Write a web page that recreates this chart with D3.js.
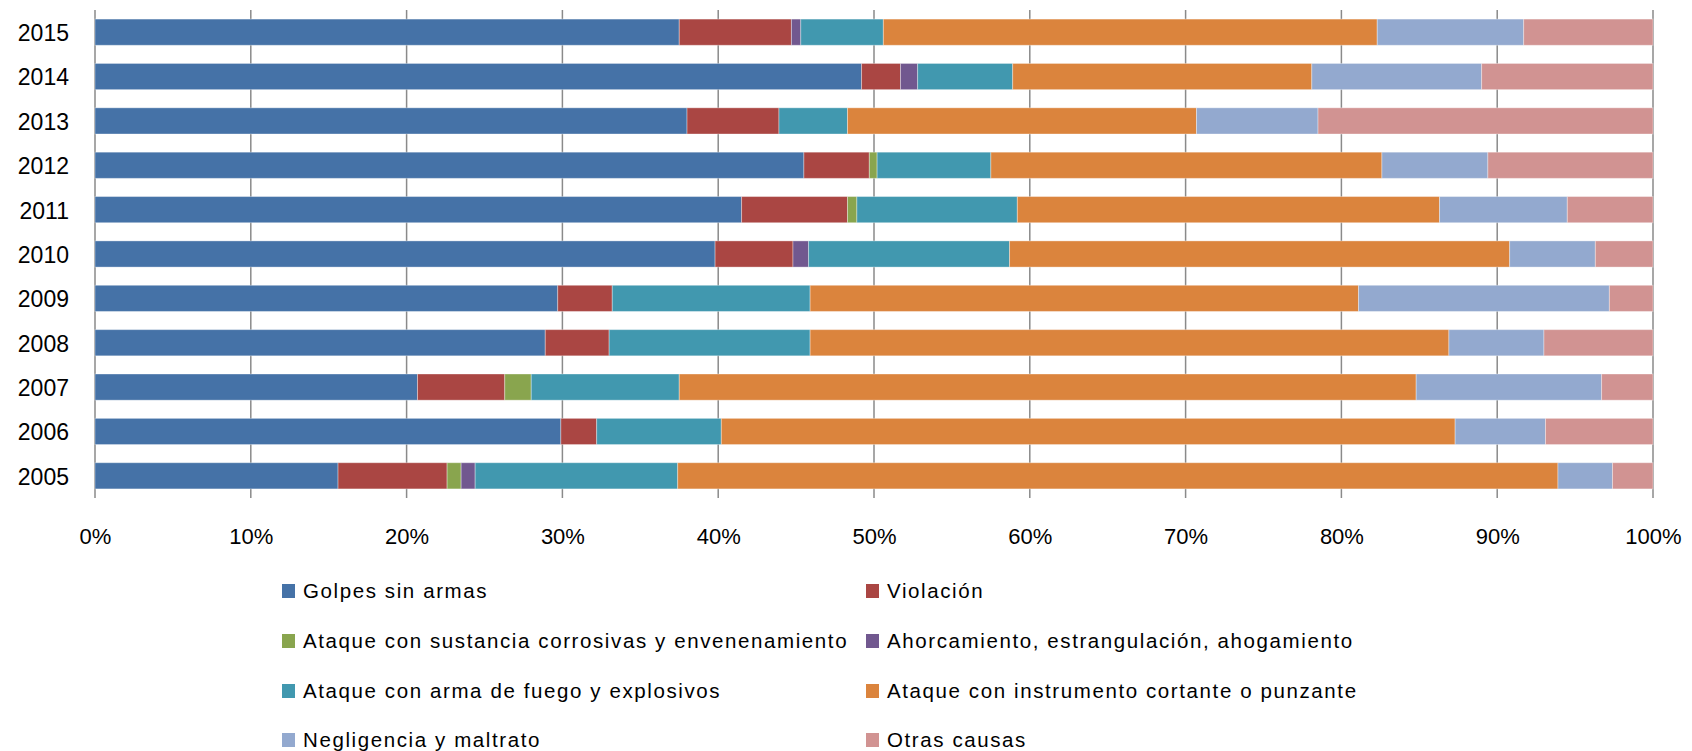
<!DOCTYPE html>
<html><head><meta charset="utf-8">
<script src="https://cdn.jsdelivr.net/npm/d3@7"></script>
<style>body{margin:0;background:#fff}svg{display:block}text{font-family:"Liberation Sans",Arial,sans-serif;fill:#000}</style>
</head><body><svg id="c" width="1692" height="751"></svg>
<script>
const years = ["2015","2014","2013","2012","2011","2010","2009","2008","2007","2006","2005"];
const seriesNames = ["Golpes sin armas","Violación","Ataque con sustancia corrosivas y envenenamiento","Ahorcamiento, estrangulación, ahogamiento","Ataque con arma de fuego y explosivos","Ataque con instrumento cortante o punzante","Negligencia y maltrato","Otras causas"];
const colors = ["#4572A7","#AA4643","#89A54E","#71588F","#4198AF","#DB843D","#93A9CF","#D19392"];
// values per year (same order as years), percent share
const golpes     = [37.5,49.2,38.0,45.5,41.5,39.8,29.7,28.9,20.7,29.9,15.6];
const violacion  = [7.2, 2.5, 5.9, 4.2, 6.8, 5.0, 3.5, 4.1, 5.6, 2.3, 7.0];
const corrosivas = [0,   0,   0,   0.5, 0.6, 0,   0,   0,   1.7, 0,   0.9];
const ahorcam    = [0.6, 1.1, 0,   0,   0,   1.0, 0,   0,   0,   0,   0.9];
const fuego      = [5.3, 6.1, 4.4, 7.3, 10.3,12.9,12.7,12.9,9.5, 8.0, 13.0];
const cortante   = [31.7,19.2,22.4,25.1,27.1,32.1,35.2,41.0,47.3,47.1,56.5];
const negligencia= [9.4, 10.9,7.8, 6.8, 8.2, 5.5, 16.1,6.1, 11.9,5.8, 3.5];
const otras      = [8.3, 11.0,21.5,10.6,5.5, 3.7, 2.8, 7.0, 3.3, 6.9, 2.6];
const xTicks = [0,0.1,0.2,0.3,0.4,0.5,0.6,0.7,0.8,0.9,1];

const seriesArr = [golpes,violacion,corrosivas,ahorcam,fuego,cortante,negligencia,otras];
const rows = years.map((y,i)=>{const o={year:y};seriesNames.forEach((s,j)=>o[s]=seriesArr[j][i]);return o;});

const svg = d3.select("#c");
const x = d3.scaleLinear().domain([0,1]).range([95,1653]);
const y = d3.scaleBand().domain(years).range([10,498]).paddingInner(0.41).paddingOuter(0.205);
const stack = d3.stack().keys(seriesNames).offset(d3.stackOffsetExpand);
const layers = stack(rows);

// gridlines
svg.append("g").selectAll("line").data(xTicks).join("line")
  .attr("x1",d=>x(d)).attr("x2",d=>x(d)).attr("y1",10).attr("y2",498)
  .attr("stroke","#8a8a8a").attr("stroke-width",1.5);

// bars
svg.append("g").selectAll("g").data(layers).join("g")
  .attr("fill",(d,i)=>colors[i])
  .selectAll("rect").data(d=>d).join("rect")
  .attr("x",d=>x(d[0])).attr("width",d=>Math.max(0,x(d[1])-x(d[0])))
  .attr("y",d=>y(d.data.year)).attr("height",y.bandwidth())
  .attr("stroke","#fff").attr("stroke-opacity",0.35).attr("stroke-width",1);

// x tick labels
const xAxis = d3.axisBottom(x).tickValues(xTicks).tickFormat(d3.format(".0%")).tickSize(0).tickPadding(0);
const gx = svg.append("g").attr("transform","translate(0,528)").call(xAxis);
gx.select(".domain").remove();
gx.selectAll("text").attr("font-size",22).attr("font-family","Liberation Sans, Arial, sans-serif").attr("fill","#000").attr("dy","0.71em");

// y labels
const yAxis = d3.axisLeft(y).tickSize(0).tickPadding(26);
const gy = svg.append("g").attr("transform","translate(95,1.5)").call(yAxis);
gy.select(".domain").remove();
gy.selectAll("text").attr("font-size",23).attr("font-family","Liberation Sans, Arial, sans-serif").attr("fill","#000");

// legend
const legX = [282, 866], legY = [591, 641, 691, 740];
const leg = svg.append("g").selectAll("g").data(seriesNames).join("g")
  .attr("transform",(d,i)=>`translate(${legX[i%2]},${legY[Math.floor(i/2)]})`);
leg.append("rect").attr("x",0).attr("y",-7).attr("width",13).attr("height",14).attr("fill",(d,i)=>colors[i]);
leg.append("text").attr("x",21).attr("y",0).attr("dy","0.35em").attr("font-size",20.5).attr("letter-spacing","1.6px").text(d=>d);
</script></body></html>
